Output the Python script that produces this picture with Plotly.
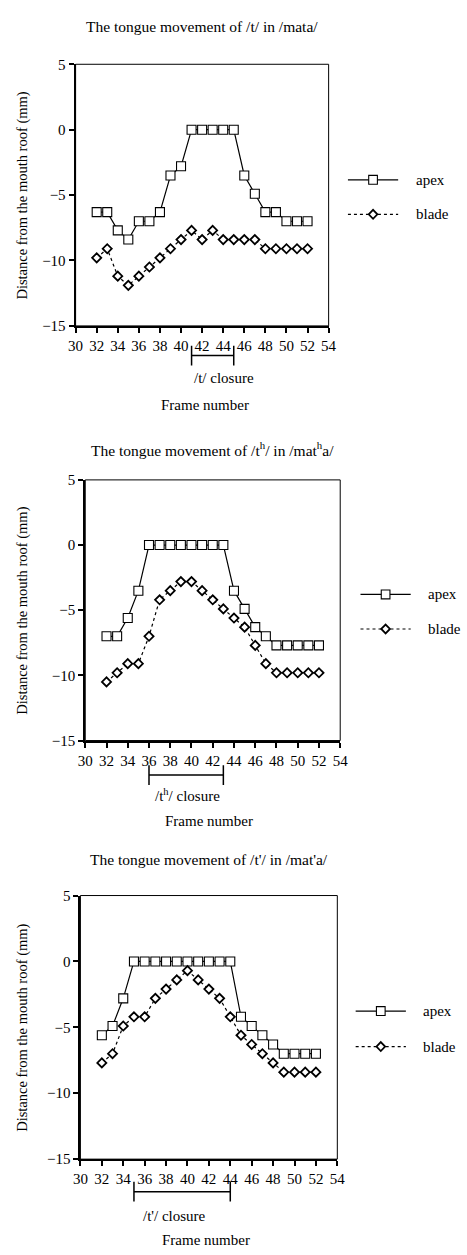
import plotly.graph_objects as go

W, H = 467, 1255

frames = list(range(32, 53))

apex_mata = [-6.3, -6.3, -7.7, -8.4, -7.0, -7.0, -6.3, -3.5, -2.8, 0, 0, 0, 0, 0,
             -3.5, -4.9, -6.3, -6.3, -7.0, -7.0, -7.0]
blade_mata = [-9.8, -9.1, -11.2, -11.9, -11.2, -10.5, -9.8, -9.1, -8.4, -7.7, -8.4, -7.7,
              -8.4, -8.4, -8.4, -8.4, -9.1, -9.1, -9.1, -9.1, -9.1]

apex_matha = [-7.0, -7.0, -5.6, -3.5, 0, 0, 0, 0, 0, 0, 0, 0,
              -3.5, -4.9, -6.3, -7.0, -7.7, -7.7, -7.7, -7.7, -7.7]
blade_matha = [-10.5, -9.8, -9.1, -9.1, -7.0, -4.2, -3.5, -2.8, -2.8, -3.5, -4.2, -4.9,
               -5.6, -6.3, -7.7, -9.1, -9.8, -9.8, -9.8, -9.8, -9.8]

apex_mata_ej = [-5.6, -4.9, -2.8, 0, 0, 0, 0, 0, 0, 0, 0, 0, 0,
                -4.2, -4.9, -5.6, -6.3, -7.0, -7.0, -7.0, -7.0]
blade_mata_ej = [-7.7, -7.0, -4.9, -4.2, -4.2, -2.8, -2.1, -1.4, -0.7, -1.4, -2.1, -2.8,
                 -4.2, -5.6, -6.3, -7.0, -7.7, -8.4, -8.4, -8.4, -8.4]

titles = ["The tongue movement of /t/ in /mata/",
          "The tongue movement of /t<sup>h</sup>/ in /mat<sup>h</sup>a/",
          "The tongue movement of /t'/ in /mat'a/"]
closure_labels = ["/t/ closure", "/t<sup>h</sup>/ closure", "/t'/ closure"]
closure_spans = [(41, 45), (36, 43), (35, 44)]
series_names = ["apex", "blade"]
x_ticks = list(range(30, 55, 2))
y_ticks = [5, 0, -5, -10, -15]

FONT = "Liberation Serif"


def fx(px):
    return px / W


def fy(px):
    return 1 - px / H


# panel geometry in pixels: left, right, top, bottom
panels = [
    dict(l=70, r=332, t=57, b=322, title_y=19, br_y=352, lab_y=375, lab_x=44.1,
         fn_y=402, fn_x=204, leg_x=352, leg_ys=(174, 209)),
    dict(l=80, r=344, t=478, b=742, title_y=447, br_y=777, lab_y=797, lab_x=39.6,
         fn_y=823, fn_x=208, leg_x=365, leg_ys=(594, 629)),
    dict(l=75, r=341, t=899, b=1166, title_y=862, br_y=1199, lab_y=1224, lab_x=38.8,
         fn_y=1248, fn_x=205, leg_x=360, leg_ys=(1016, 1052)),
]

data = [(apex_mata, blade_mata), (apex_matha, blade_matha), (apex_mata_ej, blade_mata_ej)]

styles = [
    dict(line=dict(color="black", width=1.2),
         marker=dict(symbol="square", size=9, color="white", line=dict(color="black", width=1.1))),
    dict(line=dict(color="black", width=1.2, dash="dot"),
         marker=dict(symbol="diamond", size=7, color="white", line=dict(color="black", width=1.8))),
]

fig = go.Figure()
shapes = []
annotations = []
layout = {}

for i, (p, series) in enumerate(zip(panels, data)):
    k = "" if i == 0 else str(i + 1)
    xa, ya = "x" + k, "y" + k
    for j, (vals, st) in enumerate(zip(series, styles)):
        fig.add_trace(go.Scatter(
            x=frames, y=vals, mode="lines+markers", name=series_names[j],
            xaxis=xa, yaxis=ya, showlegend=False, **st,
        ))
    layout["xaxis" + k] = dict(
        domain=[fx(p["l"]), fx(p["r"])], range=[30, 54], anchor=ya,
        tickvals=x_ticks, ticks="outside", ticklen=5, tickwidth=1.5, tickcolor="black",
        showline=True, linewidth=2, linecolor="black", showgrid=False, zeroline=False,
        tickfont=dict(family=FONT, size=15, color="black"), fixedrange=True,
    )
    layout["yaxis" + k] = dict(
        domain=[fy(p["b"]), fy(p["t"])], range=[-15, 5], anchor=xa,
        tickvals=y_ticks, ticks="outside", ticklen=5, tickwidth=1.5, tickcolor="black",
        showline=True, linewidth=2, linecolor="black", showgrid=False, zeroline=False,
        tickfont=dict(family=FONT, size=15, color="black"), fixedrange=True,
    )
    # thin frame on top and right
    shapes.append(dict(type="rect", xref="paper", yref="paper",
                       x0=fx(p["l"]), x1=fx(p["r"]), y0=fy(p["b"]), y1=fy(p["t"]),
                       line=dict(color="black", width=1)))
    # legend (drawn manually so it can sit at the page edge like the original)
    lx0 = p["leg_x"]
    lx1 = lx0 + 52
    mx = (lx0 + lx1) / 2
    for j, ly in enumerate(p["leg_ys"]):
        st = styles[j]
        shapes.append(dict(type="line", xref="paper", yref="paper",
                           x0=fx(lx0), x1=fx(lx1), y0=fy(ly), y1=fy(ly),
                           line=dict(color="black", width=1.2,
                                     dash=st["line"].get("dash", "solid"))))
        s = 4.5
        if j == 0:
            shapes.append(dict(type="rect", xref="paper", yref="paper",
                               x0=fx(mx - s), x1=fx(mx + s), y0=fy(ly + s), y1=fy(ly - s),
                               fillcolor="white", line=dict(color="black", width=1.1)))
        else:
            path = "M{:.5f},{:.5f} L{:.5f},{:.5f} L{:.5f},{:.5f} L{:.5f},{:.5f} Z".format(
                fx(mx - s), fy(ly), fx(mx), fy(ly - s), fx(mx + s), fy(ly), fx(mx), fy(ly + s))
            shapes.append(dict(type="path", xref="paper", yref="paper", path=path,
                               fillcolor="white", line=dict(color="black", width=1.8)))
        annotations.append(dict(text=series_names[j], xref="paper", yref="paper",
                                x=fx(lx1 + 16), y=fy(ly), showarrow=False,
                                xanchor="left", yanchor="middle",
                                font=dict(family=FONT, size=15, color="black")))
    # closure bracket
    c0, c1 = closure_spans[i]
    shapes.append(dict(type="line", xref=xa, yref="paper", x0=c0, x1=c1,
                       y0=fy(p["br_y"]), y1=fy(p["br_y"]), line=dict(color="black", width=1.5)))
    for c in (c0, c1):
        shapes.append(dict(type="line", xref=xa, yref="paper", x0=c, x1=c,
                           y0=fy(p["br_y"] - 10), y1=fy(p["br_y"] + 10),
                           line=dict(color="black", width=1.5)))
    annotations.append(dict(text=closure_labels[i], xref=xa, yref="paper", x=p["lab_x"],
                            y=fy(p["lab_y"]), showarrow=False, xanchor="center", yanchor="middle",
                            font=dict(family=FONT, size=15, color="black")))
    annotations.append(dict(text="Frame number", xref="paper", yref="paper", x=fx(p["fn_x"]),
                            y=fy(p["fn_y"]), showarrow=False, xanchor="center", yanchor="middle",
                            font=dict(family=FONT, size=15, color="black")))
    annotations.append(dict(text=titles[i], xref="paper", yref="paper",
                            x=fx((p["l"] + p["r"]) / 2), y=fy(p["title_y"]), showarrow=False,
                            xanchor="center", yanchor="middle",
                            font=dict(family=FONT, size=15.5, color="black")))
    annotations.append(dict(text="Distance from the mouth roof (mm)", xref="paper", yref="paper",
                            x=fx(15), y=fy((p["t"] + p["b"]) / 2), showarrow=False, textangle=-90,
                            xanchor="center", yanchor="middle",
                            font=dict(family=FONT, size=14.5, color="black")))

fig.update_layout(
    width=W, height=H, margin=dict(l=0, r=0, t=0, b=0),
    paper_bgcolor="white", plot_bgcolor="white",
    showlegend=False, shapes=shapes, annotations=annotations,
    font=dict(family=FONT, color="black"),
    **layout,
)

fig.write_html(
    "out.html",
    config={"displayModeBar": False},
    post_script="document.body.style.margin='0';document.body.style.overflow='hidden';",
)
